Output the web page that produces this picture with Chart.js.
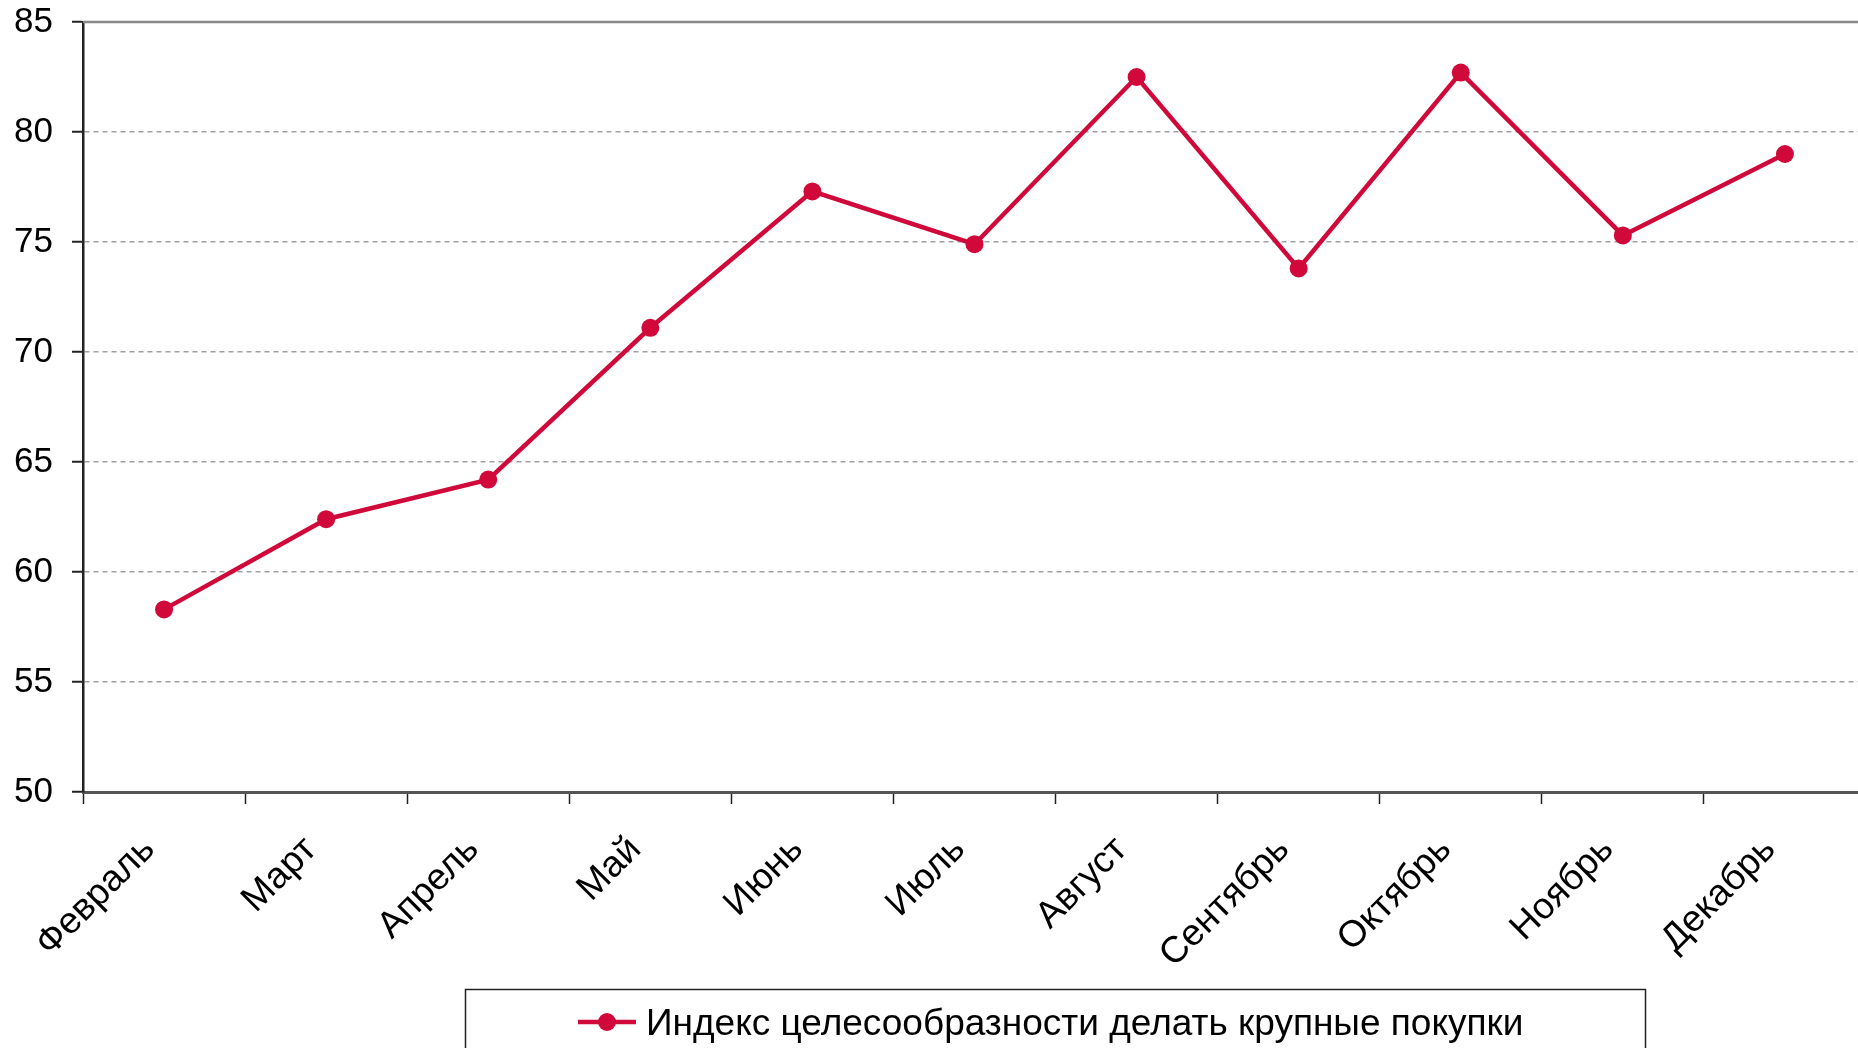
<!DOCTYPE html>
<html>
<head>
<meta charset="utf-8">
<script src="https://cdn.jsdelivr.net/npm/chart.js@4/dist/chart.umd.min.js"></script>
<style>
    html, body { margin: 0; padding: 0; overflow: hidden; background: #fff; }
    canvas { display: block; }
</style>
</head>
<body>
<canvas id="chart" width="1880" height="1048"></canvas>
<script>
// data
const months = ['Февраль', 'Март', 'Апрель', 'Май', 'Июнь', 'Июль', 'Август', 'Сентябрь', 'Октябрь', 'Ноябрь', 'Декабрь'];
const indexValues = [58.3, 62.4, 64.2, 71.1, 77.3, 74.9, 82.5, 73.8, 82.7, 75.3, 79.0];
const seriesName = 'Индекс целесообразности делать крупные покупки';
const yMin = 50;
const yMax = 85;
const yStep = 5;

const lineColor = '#D0093A';
const font = '"Liberation Sans", Arial, sans-serif';

// boxed legend under the axis + solid top frame line
const frameAndLegend = {
    id: 'frameAndLegend',
    afterDraw(chart) {
        const ctx = chart.ctx;
        const area = chart.chartArea;
        const ds = chart.data.datasets[0];
        ctx.save();
        ctx.strokeStyle = '#888';
        ctx.lineWidth = 2.5;
        ctx.beginPath();
        ctx.moveTo(area.left, area.top);
        ctx.lineTo(area.right, area.top);
        ctx.stroke();

        ctx.strokeStyle = '#222';
        ctx.lineWidth = 1.5;
        ctx.strokeRect(465.5, 989.5, 1180, 80);

        ctx.strokeStyle = ds.borderColor;
        ctx.lineWidth = 4.5;
        ctx.beginPath();
        ctx.moveTo(578, 1022);
        ctx.lineTo(636, 1022);
        ctx.stroke();
        ctx.fillStyle = ds.borderColor;
        ctx.beginPath();
        ctx.arc(607, 1022, 9, 0, Math.PI * 2);
        ctx.fill();

        ctx.fillStyle = '#000';
        ctx.font = '37px ' + font;
        ctx.textBaseline = 'middle';
        ctx.fillText(ds.label, 646, 1025, 880);
        ctx.restore();
    }
};

const ctx = document.getElementById('chart').getContext('2d');
new Chart(ctx, {
    type: 'line',
    data: {
        labels: months,
        datasets: [{
            label: seriesName,
            data: indexValues,
            borderColor: lineColor,
            backgroundColor: lineColor,
            borderWidth: 4.5,
            pointRadius: 9,
            pointBorderWidth: 0,
            pointBackgroundColor: lineColor,
            tension: 0
        }]
    },
    options: {
        responsive: false,
        animation: false,
        layout: { padding: { top: 22, right: 14, left: 0, bottom: 0 } },
        plugins: {
            legend: { display: false },
            tooltip: { enabled: false }
        },
        scales: {
            x: {
                offset: true,
                afterFit: scale => { scale.height = 256; },
                grid: {
                    offset: true,
                    drawOnChartArea: false,
                    tickLength: 12,
                    tickColor: '#222',
                    tickWidth: 1.5
                },
                border: { color: '#555', width: 3 },
                ticks: {
                    color: '#000',
                    font: { family: font, size: 37 },
                    minRotation: 45,
                    maxRotation: 45,
                    autoSkip: false,
                    labelOffset: -15,
                    padding: 24
                }
            },
            y: {
                min: yMin,
                max: yMax,
                afterFit: scale => {
                    scale.width = 83;
                    scale.paddingTop = 0;
                    scale.paddingBottom = 0;
                },
                grid: {
                    color: c => (c.tick && (c.tick.value === yMin || c.tick.value === yMax)) ? 'rgba(0,0,0,0)' : '#a0a0a0',
                    lineWidth: 1.5,
                    tickLength: 11,
                    tickColor: '#222',
                    tickWidth: 2,
                    tickBorderDash: []
                },
                border: { color: '#222', width: 2.5, dash: [5, 4] },
                ticks: {
                    stepSize: yStep,
                    color: '#000',
                    font: { family: font, size: 35 },
                    padding: 19
                }
            }
        }
    },
    plugins: [frameAndLegend]
});
</script>
</body>
</html>
